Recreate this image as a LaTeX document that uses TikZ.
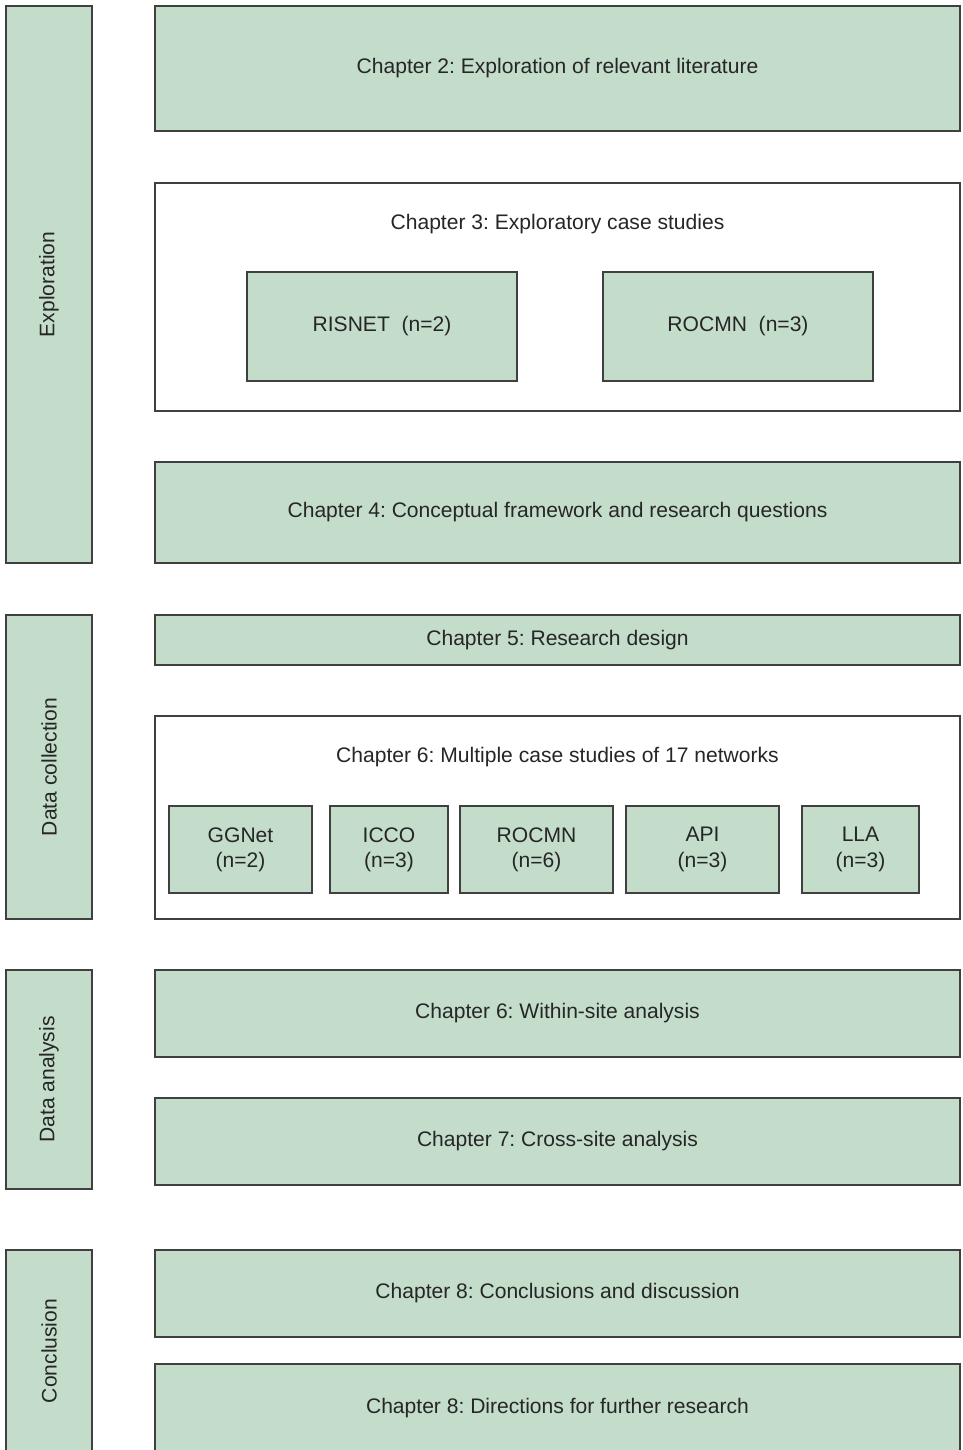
\documentclass[tikz,border=0pt]{standalone}
\usepackage{fontspec}
\setmainfont{Liberation Sans}
\frenchspacing
\definecolor{boxgreen}{RGB}{196,221,202}
\definecolor{boxline}{RGB}{64,64,64}

\begin{document}
\begin{tikzpicture}[x=0.75pt,y=-0.75pt,
  every node/.style={font=\fontsize{15.8}{19}\selectfont,text=black!85},
  greenbox/.style={shape=rectangle,draw=boxline,fill=boxgreen,line width=1.1pt,inner sep=0pt,align=center},
  framebox/.style={shape=rectangle,draw=boxline,fill=white,line width=1.1pt,inner sep=0pt},
  sidebox/.style={greenbox,rotate=90,minimum height=86*0.75pt}]
\useasboundingbox (0,0) rectangle (963,1450);
\clip (0,0) rectangle (963,1450);

% phases down the left side
\node[sidebox,minimum width=557*0.75pt] (expl) at (49,284.5) {Exploration};
\node[sidebox,minimum width=304*0.75pt] (datacol) at (49,767) {Data collection};
\node[sidebox,minimum width=219*0.75pt] (dataana) at (49,1079.5) {Data analysis};
\node[sidebox,minimum width=202*0.75pt] (concl) at (49,1351) {Conclusion};

% chapters
\node[greenbox,minimum width=805*0.75pt,minimum height=125*0.75pt] (ch2) at (557.5,68.5) {Chapter 2: Exploration of relevant literature};

\node[framebox,minimum width=805*0.75pt,minimum height=228*0.75pt] (ch3) at (557.5,297) {};
\node (ch3title) at (557.5,224) {Chapter 3: Exploratory case studies};
\node[greenbox,minimum width=270*0.75pt,minimum height=109*0.75pt] (risnet) at (382,326.5) {RISNET\ \ (n=2)};
\node[greenbox,minimum width=270*0.75pt,minimum height=109*0.75pt] (rocmn1) at (738,326.5) {ROCMN\ \ (n=3)};

\node[greenbox,minimum width=805*0.75pt,minimum height=101*0.75pt] (ch4) at (557.5,512.5) {Chapter 4: Conceptual framework and research questions};

\node[greenbox,minimum width=805*0.75pt,minimum height=50*0.75pt] (ch5) at (557.5,640) {Chapter 5: Research design};

\node[framebox,minimum width=805*0.75pt,minimum height=203*0.75pt] (ch6) at (557.5,817.5) {};
\node (ch6title) at (557.5,757) {Chapter 6: Multiple case studies of 17 networks};
\node[greenbox,minimum width=143*0.75pt,minimum height=87*0.75pt] (ggnet) at (240.5,849.5) {GGNet\\(n=2)};
\node[greenbox,minimum width=118*0.75pt,minimum height=87*0.75pt] (icco) at (389,849.5) {ICCO\\(n=3)};
\node[greenbox,minimum width=153*0.75pt,minimum height=87*0.75pt] (rocmn2) at (536.5,849.5) {ROCMN\\(n=6)};
\node[greenbox,minimum width=153*0.75pt,minimum height=87*0.75pt] (api) at (702.5,849.5) {API\\(n=3)};
\node[greenbox,minimum width=117*0.75pt,minimum height=87*0.75pt] (lla) at (860.5,849.5) {LLA\\(n=3)};

\node[greenbox,minimum width=805*0.75pt,minimum height=87*0.75pt] (ch6b) at (557.5,1013.5) {Chapter 6: Within-site analysis};
\node[greenbox,minimum width=805*0.75pt,minimum height=87*0.75pt] (ch7) at (557.5,1141.5) {Chapter 7: Cross-site analysis};

\node[greenbox,minimum width=805*0.75pt,minimum height=87*0.75pt] (ch8a) at (557.5,1293.5) {Chapter 8: Conclusions and discussion};
\node[greenbox,minimum width=805*0.75pt,minimum height=88*0.75pt] (ch8b) at (557.5,1408) {Chapter 8: Directions for further research};
\end{tikzpicture}
\end{document}
